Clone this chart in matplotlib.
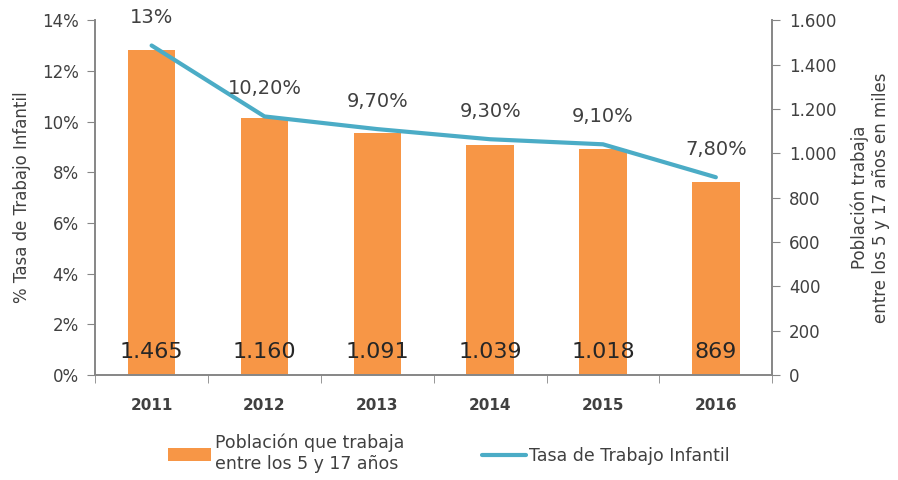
import matplotlib
matplotlib.use('Agg')
import matplotlib.pyplot as plt
import numpy as np
from matplotlib.ticker import FuncFormatter, FixedLocator

years = ['2011', '2012', '2013', '2014', '2015', '2016']
poblacion = [1465, 1160, 1091, 1039, 1018, 869]
tasa = [13.0, 10.2, 9.7, 9.3, 9.1, 7.8]
tasa_labels = ['13%', '10,20%', '9,70%', '9,30%', '9,10%', '7,80%']
pob_labels = ['1.465', '1.160', '1.091', '1.039', '1.018', '869']

ORANGE = '#F79646'
BLUE = '#4BACC6'
GRAY = '#868686'
TXT = '#404040'

plt.rcParams['font.family'] = ['DejaVu Sans']

fig = plt.figure(figsize=(8.98, 4.80), dpi=100)
ax = fig.add_axes([0.106, 0.219, 0.754, 0.739])
ax2 = ax.twinx()

x = np.arange(len(years))

# bars on right axis (miles), line on left axis (%)
ax2.bar(x, poblacion, width=0.42, color=ORANGE, zorder=2,
        label='Población que trabaja\nentre los 5 y 17 años')
ax2.set_ylim(0, 1600)
ax2.yaxis.set_major_locator(FixedLocator(np.arange(0, 1601, 200)))
ax2.yaxis.set_major_formatter(FuncFormatter(lambda v, p: f'{int(v):,}'.replace(',', '.')))

ax.set_zorder(ax2.get_zorder() + 1)
ax.patch.set_visible(False)
ax.plot(x, tasa, color=BLUE, linewidth=3, solid_capstyle='round',
        label='Tasa de Trabajo Infantil', zorder=3)
ax.set_ylim(0, 14)
ax.set_xlim(-0.5, len(years) - 0.5)
ax.yaxis.set_major_locator(FixedLocator(np.arange(0, 15, 2)))
ax.yaxis.set_major_formatter(FuncFormatter(lambda v, p: f'{int(v)}%'))

for xi, t, lab in zip(x, tasa, tasa_labels):
    ax.annotate(lab, (xi, t), xytext=(0, 20), textcoords='offset points',
                ha='center', va='center', fontsize=14, color=TXT)

for xi, lab in zip(x, pob_labels):
    ax.text(xi, 0.065, lab, transform=ax.get_xaxis_transform(),
            ha='center', va='center', fontsize=16, color='#262626')

ax.set_xticks(x)
ax.set_xticklabels(years, fontsize=11, fontweight='bold', color=TXT)
ax.set_xticks(np.arange(-0.5, len(years), 1), minor=True)
ax.tick_params(axis='x', which='major', length=0, pad=17)
ax.tick_params(axis='x', which='minor', length=6, color=GRAY, direction='out')
ax.tick_params(axis='y', labelsize=12, labelcolor=TXT, color=GRAY, length=6, pad=6)
ax2.tick_params(axis='y', labelsize=12, labelcolor=TXT, color=GRAY, length=6, pad=6)

for a in (ax, ax2):
    a.spines['top'].set_visible(False)
    for s in ('left', 'right', 'bottom'):
        a.spines[s].set_color(GRAY)
        a.spines[s].set_linewidth(1.2)

ax.set_ylabel('% Tasa de Trabajo Infantil', fontsize=12, color=TXT, labelpad=8)
ax2.set_ylabel('Población trabaja\nentre los 5 y 17 años en miles', fontsize=12,
               color=TXT, labelpad=10, linespacing=1.2)

h1, l1 = ax2.get_legend_handles_labels()
h2, l2 = ax.get_legend_handles_labels()
fig.legend(h1 + h2, l1 + l2, loc='center', bbox_to_anchor=(0.5, 0.055), ncol=2,
           frameon=False, fontsize=12.5, handlelength=2.5, handletextpad=0.2,
           columnspacing=4.5, labelcolor=TXT)

fig.savefig('out.png', dpi=100)
